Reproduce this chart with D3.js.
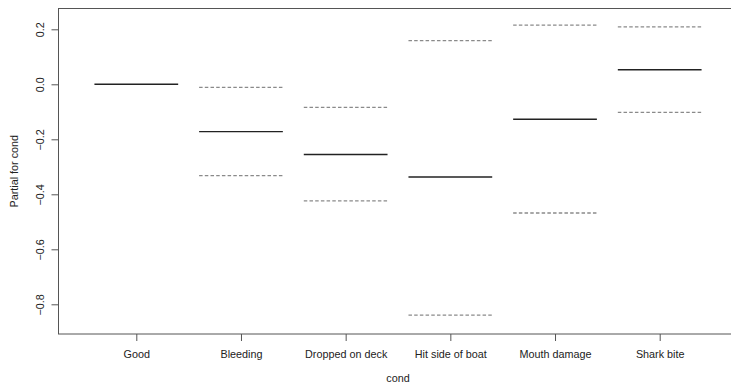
<!DOCTYPE html>
<html>
<head>
<meta charset="utf-8">
<script src="https://cdn.jsdelivr.net/npm/d3@7"></script>
<style>
  html, body { margin: 0; padding: 0; background: #fff; }
  svg { display: block; }
  text { font-family: "Liberation Sans", Arial, sans-serif; fill: #222; }
</style>
</head>
<body>
<svg id="chart" width="731" height="390"></svg>
<script>
// Term plot of the factor "cond": fitted partial effect with ±2 SE bands
const categories = ["Good", "Bleeding", "Dropped on deck", "Hit side of boat", "Mouth damage", "Shark bite"];
const partial = [0, -0.172, -0.255, -0.337, -0.127, 0.053];
const upper   = [null, -0.011, -0.084, 0.159, 0.215, 0.209];
const lower   = [null, -0.332, -0.424, -0.839, -0.468, -0.102];
const yTicks  = [0.2, 0.0, -0.2, -0.4, -0.6, -0.8];

const svg = d3.select("#chart");
const plot = { left: 58, top: 8.5, right: 738, bottom: 334 };

// level index 1..6 on a continuous axis, as in a base-graphics factor plot
const x = d3.scaleLinear().domain([1, 6]).range([136.3, 659.7]);
const y = d3.scaleLinear().domain([0, -0.8]).range([84.3, 304.3]);
const halfWidth = 0.4;

// plotting box
svg.append("rect")
  .attr("x", plot.left + 0.5).attr("y", plot.top)
  .attr("width", plot.right - plot.left).attr("height", plot.bottom - plot.top)
  .attr("fill", "none").attr("stroke", "#555").attr("stroke-width", 1);

// y axis
const yAxis = d3.axisLeft(y).tickValues(yTicks).tickSize(7).tickPadding(6)
  .tickFormat(d3.format(".1f"));
const gy = svg.append("g").attr("transform", `translate(${plot.left + 0.5},0)`).call(yAxis);
gy.select(".domain").remove();
gy.selectAll(".tick line").attr("stroke", "#555");
gy.selectAll(".tick text")
  .attr("x", null).attr("dy", null)
  .attr("text-anchor", "middle")
  .attr("transform", "translate(-18,0) rotate(-90)")
  .attr("dy", "0.35em")
  .style("font-size", "10.8px");

// x axis
const xAxis = d3.axisBottom(x).tickValues(d3.range(1, categories.length + 1))
  .tickSize(7).tickPadding(9).tickFormat(d => categories[d - 1]);
const gx = svg.append("g").attr("transform", `translate(0,${plot.bottom})`).call(xAxis);
gx.select(".domain").remove();
gx.selectAll(".tick line").attr("stroke", "#555");
gx.selectAll(".tick text").style("font-size", "10.8px");

// axis titles
svg.append("text")
  .attr("x", (plot.left + plot.right) / 2).attr("y", 382)
  .attr("text-anchor", "middle").style("font-size", "10.8px")
  .text("cond");
svg.append("text")
  .attr("transform", `translate(18,${(plot.top + plot.bottom) / 2}) rotate(-90)`)
  .attr("text-anchor", "middle").style("font-size", "10.8px")
  .text("Partial for cond");

const rows = categories.map((c, i) => ({ i: i + 1, fit: partial[i], hi: upper[i], lo: lower[i] }));

// standard-error bands (dashed)
const bands = rows.flatMap(r => r.hi == null ? [] : [{ i: r.i, v: r.hi }, { i: r.i, v: r.lo }]);
svg.append("g").selectAll("line").data(bands).join("line")
  .attr("x1", d => x(d.i - halfWidth)).attr("x2", d => x(d.i + halfWidth))
  .attr("y1", d => y(d.v)).attr("y2", d => y(d.v))
  .attr("stroke", "#8a8a8a").attr("stroke-width", 1.3)
  .attr("stroke-dasharray", "3.5,2.2");

// fitted partial effects
svg.append("g").selectAll("line").data(rows).join("line")
  .attr("x1", d => x(d.i - halfWidth)).attr("x2", d => x(d.i + halfWidth))
  .attr("y1", d => y(d.fit)).attr("y2", d => y(d.fit))
  .attr("stroke", "#222").attr("stroke-width", 1.4);
</script>
</body>
</html>
